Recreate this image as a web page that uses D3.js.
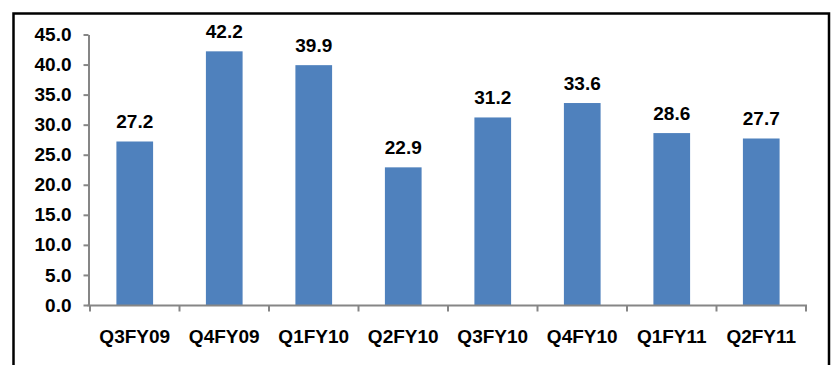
<!DOCTYPE html>
<html>
<head>
<meta charset="utf-8">
<script src="https://cdn.jsdelivr.net/npm/d3@7/dist/d3.min.js"></script>
<style>
  html, body { margin: 0; padding: 0; background: #fff; }
  svg { display: block; }
  text { font-family: Arial, "Liberation Sans", sans-serif; font-weight: bold; fill: #000; }
</style>
</head>
<body>
<svg id="chart" width="832" height="365"></svg>
<script>
// Quarterly values
const categories = ["Q3FY09", "Q4FY09", "Q1FY10", "Q2FY10", "Q3FY10", "Q4FY10", "Q1FY11", "Q2FY11"];
const values = [27.2, 42.2, 39.9, 22.9, 31.2, 33.6, 28.6, 27.7];
const yTicks = [0, 5, 10, 15, 20, 25, 30, 35, 40, 45];

const svg = d3.select("#chart");
const W = 832, H = 365;
const fontSize = 19;

// Outer frame (open at the bottom)
svg.append("path")
  .attr("d", `M13.5,${H} V13.5 H829 V${H}`)
  .attr("fill", "none")
  .attr("stroke", "#000")
  .attr("stroke-width", 2.5);

const plot = { left: 90, right: 806, top: 34.5, bottom: 305 };

const x = d3.scaleBand()
  .domain(categories)
  .range([plot.left, plot.right])
  .paddingInner(0.59)
  .paddingOuter(0.295);

const xBand = d3.scaleBand().domain(categories).range([plot.left, plot.right]);

const y = d3.scaleLinear().domain([0, 45]).range([plot.bottom, plot.top]);

const axisColor = "#868686";

// Bars
svg.append("g").selectAll("rect")
  .data(values)
  .join("rect")
  .attr("x", (d, i) => x(categories[i]))
  .attr("width", x.bandwidth())
  .attr("y", d => y(d))
  .attr("height", d => y(0) - y(d))
  .attr("fill", "#4F81BD");

// Value labels
svg.append("g").selectAll("text")
  .data(values)
  .join("text")
  .attr("x", (d, i) => x(categories[i]) + x.bandwidth() / 2)
  .attr("y", d => y(d) - 13)
  .attr("text-anchor", "middle")
  .attr("font-size", fontSize)
  .text(d => d.toFixed(1));

// Y axis
const yAxis = svg.append("g")
  .attr("transform", `translate(${plot.left - 1.5},0)`)
  .call(d3.axisLeft(y).tickValues(yTicks).tickFormat(d => d.toFixed(1)).tickSize(5).tickSizeOuter(0).tickPadding(12));
yAxis.select(".domain").attr("stroke", axisColor).attr("stroke-width", 2);
yAxis.selectAll(".tick line").attr("stroke", axisColor).attr("stroke-width", 2);
yAxis.selectAll(".tick text").attr("font-size", fontSize).attr("font-family", "Arial, 'Liberation Sans', sans-serif").attr("font-weight", "bold").attr("fill", "#000");

// X axis with ticks at category boundaries
const xg = svg.append("g").attr("transform", `translate(0,${plot.bottom + 0.5})`);
xg.append("line")
  .attr("x1", plot.left - 2.5).attr("x2", plot.right + 1)
  .attr("stroke", axisColor).attr("stroke-width", 2);
const bounds = categories.map(c => xBand(c)).concat([plot.right]);
xg.selectAll("line.tick")
  .data(bounds)
  .join("line")
  .attr("class", "tick")
  .attr("x1", d => d).attr("x2", d => d)
  .attr("y1", 0).attr("y2", 6)
  .attr("stroke", axisColor).attr("stroke-width", 2);
xg.selectAll("text")
  .data(categories)
  .join("text")
  .attr("x", c => xBand(c) + xBand.bandwidth() / 2)
  .attr("y", 37.5)
  .attr("text-anchor", "middle")
  .attr("font-size", fontSize)
  .text(c => c);
</script>
</body>
</html>
